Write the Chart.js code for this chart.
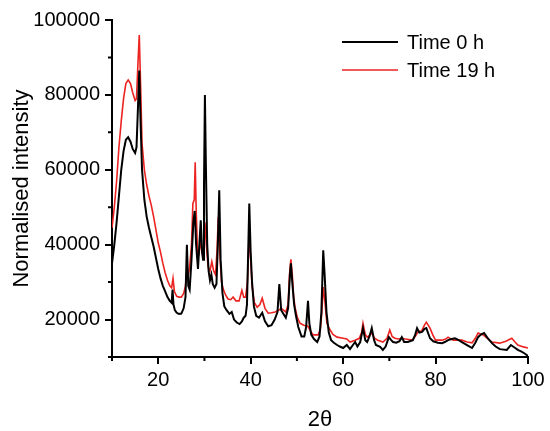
<!DOCTYPE html>
<html>
<head>
<meta charset="utf-8">
<script src="https://cdn.jsdelivr.net/npm/chart.js@4.4.0/dist/chart.umd.min.js"></script>
<style>
  body { margin: 0; background: #fff; }
  #wrap { width: 550px; height: 431px; }
</style>
</head>
<body>
<div id="wrap"><canvas id="xrd"></canvas></div>
<script>
// 2theta positions and normalised intensities
var angles0 = [
  10, 10.5, 11, 11.5, 12, 12.5, 13, 13.5, 14, 14.5,
  15, 15.3, 15.6, 15.9, 16.2, 16.5, 17, 17.5, 18, 18.5,
  19, 19.5, 20, 20.5, 21, 21.5, 22, 22.5, 22.9, 23.1,
  23.3, 23.6, 24, 24.5, 25, 25.5, 25.9, 26.2, 26.5, 26.8,
  27.2, 27.6, 27.9, 28.2, 28.6, 28.9, 29.2, 29.5, 29.7, 29.9,
  30.1, 30.3, 30.6, 30.9, 31.2, 31.5, 31.8, 32.2, 32.6, 32.9,
  33.2, 33.5, 33.9, 34.3, 34.8, 35.4, 35.9, 36.4, 37, 37.6,
  38.1, 38.5, 38.9, 39.2, 39.5, 39.7, 40, 40.3, 40.7, 41.2,
  41.8, 42.5, 43.1, 43.8, 44.5, 45.2, 45.8, 46.2, 46.6, 47,
  47.6, 48.1, 48.5, 48.7, 49, 49.4, 49.8, 50.3, 51, 51.6,
  52, 52.4, 52.7, 53.1, 53.7, 54.4, 54.9, 55.3, 55.7, 56,
  56.4, 56.9, 57.4, 58, 58.7, 59.3, 60, 60.8, 61.5, 62,
  62.6, 63.1, 63.7, 64.3, 64.8, 65.2, 65.7, 66.2, 66.7, 67.1,
  68, 68.6, 69.2, 69.9, 70.4, 70.8, 71.5, 72.2, 72.7, 73.2,
  74, 75.1, 75.6, 76, 76.5, 77.1, 77.6, 78, 78.5, 78.8,
  79.5, 80.5, 81.4, 82, 82.7, 83.5, 84.2, 85, 85.7, 86.8,
  87.9, 88.6, 89.2, 89.8, 90.5, 91.2, 92.2, 93, 93.9, 95.4,
  96.3, 97, 97.8, 98.5, 99.2, 100
];
var time0 = [
  35000, 40000, 46000, 53000, 60000, 65000, 68000, 68700, 67500, 65500,
  64500, 66000, 76000, 86500, 72000, 60000, 52000, 47500, 44500, 42000,
  39500, 36500, 33500, 31000, 29000, 27500, 26000, 25000, 24500, 28000,
  24000, 22500, 21800, 21500, 21600, 23000, 26000, 40000, 29000, 28000,
  36000, 46000, 49000, 40000, 33500, 40000, 46500, 38000, 36000, 55000,
  80000, 62000, 40000, 33000, 30500, 32000, 29500, 28500, 29500, 40000,
  54500, 36000, 27000, 23500, 22500, 21500, 22000, 20000, 19200, 18800,
  19500, 20500, 21000, 24000, 40000, 51000, 38000, 30000, 23500, 21000,
  20500, 21800, 19500, 18200, 18500, 20000, 22000, 29500, 22500, 21700,
  20500, 23000, 32000, 35000, 30000, 24000, 21000, 18000, 15500, 15500,
  18000, 25000, 19000, 16000, 14800, 14000, 15500, 22000, 38500, 32000,
  22000, 16500, 14500, 13800, 13200, 12800, 12400, 13200, 12100, 13000,
  14000, 12800, 14000, 17700, 14500, 14000, 15500, 17700, 14500, 13200,
  12700, 11900, 12800, 15300, 14500, 14000, 13800, 14200, 15300, 14000,
  14000, 14500, 16000, 17700, 16500, 16700, 17500, 17700, 16000, 15000,
  14200, 13800, 13700, 14000, 14500, 14800, 15000, 14500, 14000, 13200,
  12400, 13800, 15300, 16000, 16400, 15200, 13700, 12800, 12100, 11900,
  13200, 12600, 11900, 11500, 11000, 10300
];

var angles19 = [
  10, 10.5, 11, 11.5, 12, 12.5, 13, 13.5, 14, 14.5,
  15, 15.3, 15.6, 15.9, 16.2, 16.5, 17, 17.5, 18, 18.5,
  19, 19.5, 20, 20.5, 21, 21.5, 22, 22.5, 22.9, 23.2,
  23.5, 24, 24.5, 25, 25.5, 25.9, 26.2, 26.5, 26.8, 27.2,
  27.5, 27.8, 28, 28.2, 28.5, 28.8, 29.2, 29.5, 29.8, 30.1,
  30.4, 30.8, 31.2, 31.6, 32, 32.4, 32.7, 33, 33.3, 33.7,
  34.1, 34.6, 35.1, 35.7, 36.2, 36.8, 37.5, 38.1, 38.5, 38.9,
  39.3, 39.7, 40, 40.3, 40.8, 41.4, 42, 42.5, 43.1, 43.8,
  44.5, 45.3, 46.1, 46.6, 47.1, 47.6, 48.1, 48.4, 48.7, 49,
  49.3, 49.6, 50.1, 50.7, 51.5, 52.4, 53, 53.5, 54.6, 55.1,
  55.4, 55.7, 56, 56.5, 57.2, 57.8, 58.7, 60, 60.8, 61.5,
  62.6, 63.5, 64, 64.3, 64.8, 65.2, 65.7, 66.2, 66.8, 67.5,
  68.6, 69.5, 70.1, 70.6, 71.2, 72, 72.7, 73.5, 74.9, 75.6,
  76.2, 77, 77.6, 78, 78.8, 79.4, 80, 81.4, 82.2, 82.7,
  83.8, 85.7, 86.8, 87.9, 88.6, 89.2, 90.3, 91.2, 92.2, 93.9,
  95.2, 96.5, 97.2, 97.8, 99, 100
];
var time19 = [
  44500, 50000, 57000, 66000, 73000, 79000, 83000, 84000, 83000, 80500,
  78500, 79000, 88000, 96000, 82000, 67000, 60000, 56000, 53000, 50500,
  47500, 44000, 40500, 38000, 35000, 32500, 30500, 29000, 28500, 31000,
  27500, 26200, 26000, 26000, 27000, 29000, 32500, 32000, 34000, 40000,
  51000, 52000, 62000, 50000, 38000, 37500, 41000, 37500, 37000, 46000,
  40000, 34000, 33000, 35500, 33000, 32000, 38000, 47300, 38000, 30000,
  28000, 26500, 25500, 25300, 26000, 25000, 25000, 27800, 26000, 26000,
  30000, 43300, 36000, 29000, 24500, 23300, 24000, 25700, 23000, 21700,
  21800, 22000, 22500, 23000, 22500, 22000, 24000, 32000, 36100, 32000,
  26000, 23300, 20500, 19000, 18500, 18200, 16800, 15900, 15900, 17500,
  22000, 28700, 25500, 19000, 17200, 16000, 15300, 15000, 14800, 14000,
  14500, 15000, 16500, 19000, 16000, 15300, 15800, 16400, 15000, 14500,
  14000, 15000, 17200, 15500, 15000, 14800, 15000, 14800, 14500, 15500,
  16700, 17000, 18500, 19300, 17700, 15900, 14500, 14500, 14800, 15300,
  14500, 14500, 14000, 13800, 15000, 16400, 15900, 15000, 14000, 13700,
  14200, 15000, 14000, 13200, 12700, 12400
];

var xMajor = [20, 40, 60, 80, 100];
var xMinor = [10, 30, 50, 70, 90];
var yMajor = [20000, 40000, 60000, 80000, 100000];
var yMinor = [10000, 30000, 50000, 70000, 90000];

function toPoints(xs, ys) {
  return xs.map(function (x, i) { return { x: x, y: ys[i] }; });
}

var FONT = "'Liberation Sans', Arial, sans-serif";
Chart.defaults.font.family = FONT;
Chart.defaults.color = '#000';

// short minor ticks, outside the axes
var minorTicks = {
  id: 'minorTicks',
  afterDraw: function (chart) {
    var ctx = chart.ctx, xs = chart.scales.x, ys = chart.scales.y;
    var area = chart.chartArea;
    ctx.save();
    ctx.strokeStyle = '#000';
    ctx.lineWidth = 2;
    ctx.beginPath();
    xMinor.forEach(function (v) {
      var px = xs.getPixelForValue(v);
      ctx.moveTo(px, area.bottom);
      ctx.lineTo(px, area.bottom + 4);
    });
    yMinor.forEach(function (v) {
      var py = ys.getPixelForValue(v);
      ctx.moveTo(area.left, py);
      ctx.lineTo(area.left - 4, py);
    });
    ctx.stroke();
    ctx.restore();
  }
};

// legend drawn inside the plot, top right
var insideLegend = {
  id: 'insideLegend',
  afterDraw: function (chart) {
    var ctx = chart.ctx;
    var rows = [42, 70];
    ctx.save();
    ctx.font = '20px ' + FONT;
    ctx.textBaseline = 'middle';
    chart.data.datasets.forEach(function (ds, i) {
      ctx.strokeStyle = ds.borderColor;
      ctx.lineWidth = ds.borderWidth;
      ctx.beginPath();
      ctx.moveTo(342, rows[i]);
      ctx.lineTo(398, rows[i]);
      ctx.stroke();
      ctx.fillStyle = '#000';
      ctx.fillText(ds.label, 407, rows[i] + 1);
    });
    ctx.restore();
  }
};

var ctx = document.getElementById('xrd');
new Chart(ctx, {
  type: 'scatter',
  data: {
    datasets: [{
      label: 'Time 0 h',
      data: toPoints(angles0, time0),
      showLine: true,
      borderColor: '#000000',
      borderWidth: 2,
      pointRadius: 0,
      tension: 0
    }, {
      label: 'Time 19 h',
      data: toPoints(angles19, time19),
      showLine: true,
      borderColor: '#ec2320',
      borderWidth: 1.6,
      pointRadius: 0,
      tension: 0
    }]
  },
  options: {
    responsive: true,
    maintainAspectRatio: false,
    animation: false,
    layout: { padding: { top: 20, right: 22, left: 0, bottom: 0 } },
    plugins: {
      legend: { display: false },
      tooltip: { enabled: false }
    },
    scales: {
      x: {
        type: 'linear',
        min: 10,
        max: 100,
        afterBuildTicks: function (axis) {
          axis.ticks = xMajor.map(function (v) { return { value: v }; });
        },
        afterFit: function (axis) { axis.height = 74; },
        ticks: {
          font: { size: 20 },
          padding: 4,
          maxRotation: 0,
          callback: function (v) { return String(v); }
        },
        grid: { drawOnChartArea: false, drawTicks: true, tickLength: 7, color: '#000', lineWidth: 2 },
        border: { color: '#000', width: 2 },
        title: { display: true, text: '2θ', font: { size: 22, lineHeight: 1 }, padding: { top: 0, bottom: 0 } }
      },
      y: {
        type: 'linear',
        min: 10000,
        max: 100000,
        afterBuildTicks: function (axis) {
          axis.ticks = yMajor.map(function (v) { return { value: v }; });
        },
        afterFit: function (axis) { axis.width = 112; },
        ticks: {
          font: { size: 20 },
          padding: 5,
          callback: function (v) { return String(v); }
        },
        grid: { drawOnChartArea: false, drawTicks: true, tickLength: 7, color: '#000', lineWidth: 2 },
        border: { color: '#000', width: 2 },
        title: { display: true, text: 'Normalised intensity', font: { size: 22, lineHeight: 1 }, padding: { top: 11, bottom: 0 } }
      }
    }
  },
  plugins: [minorTicks, insideLegend]
});
</script>
</body>
</html>
